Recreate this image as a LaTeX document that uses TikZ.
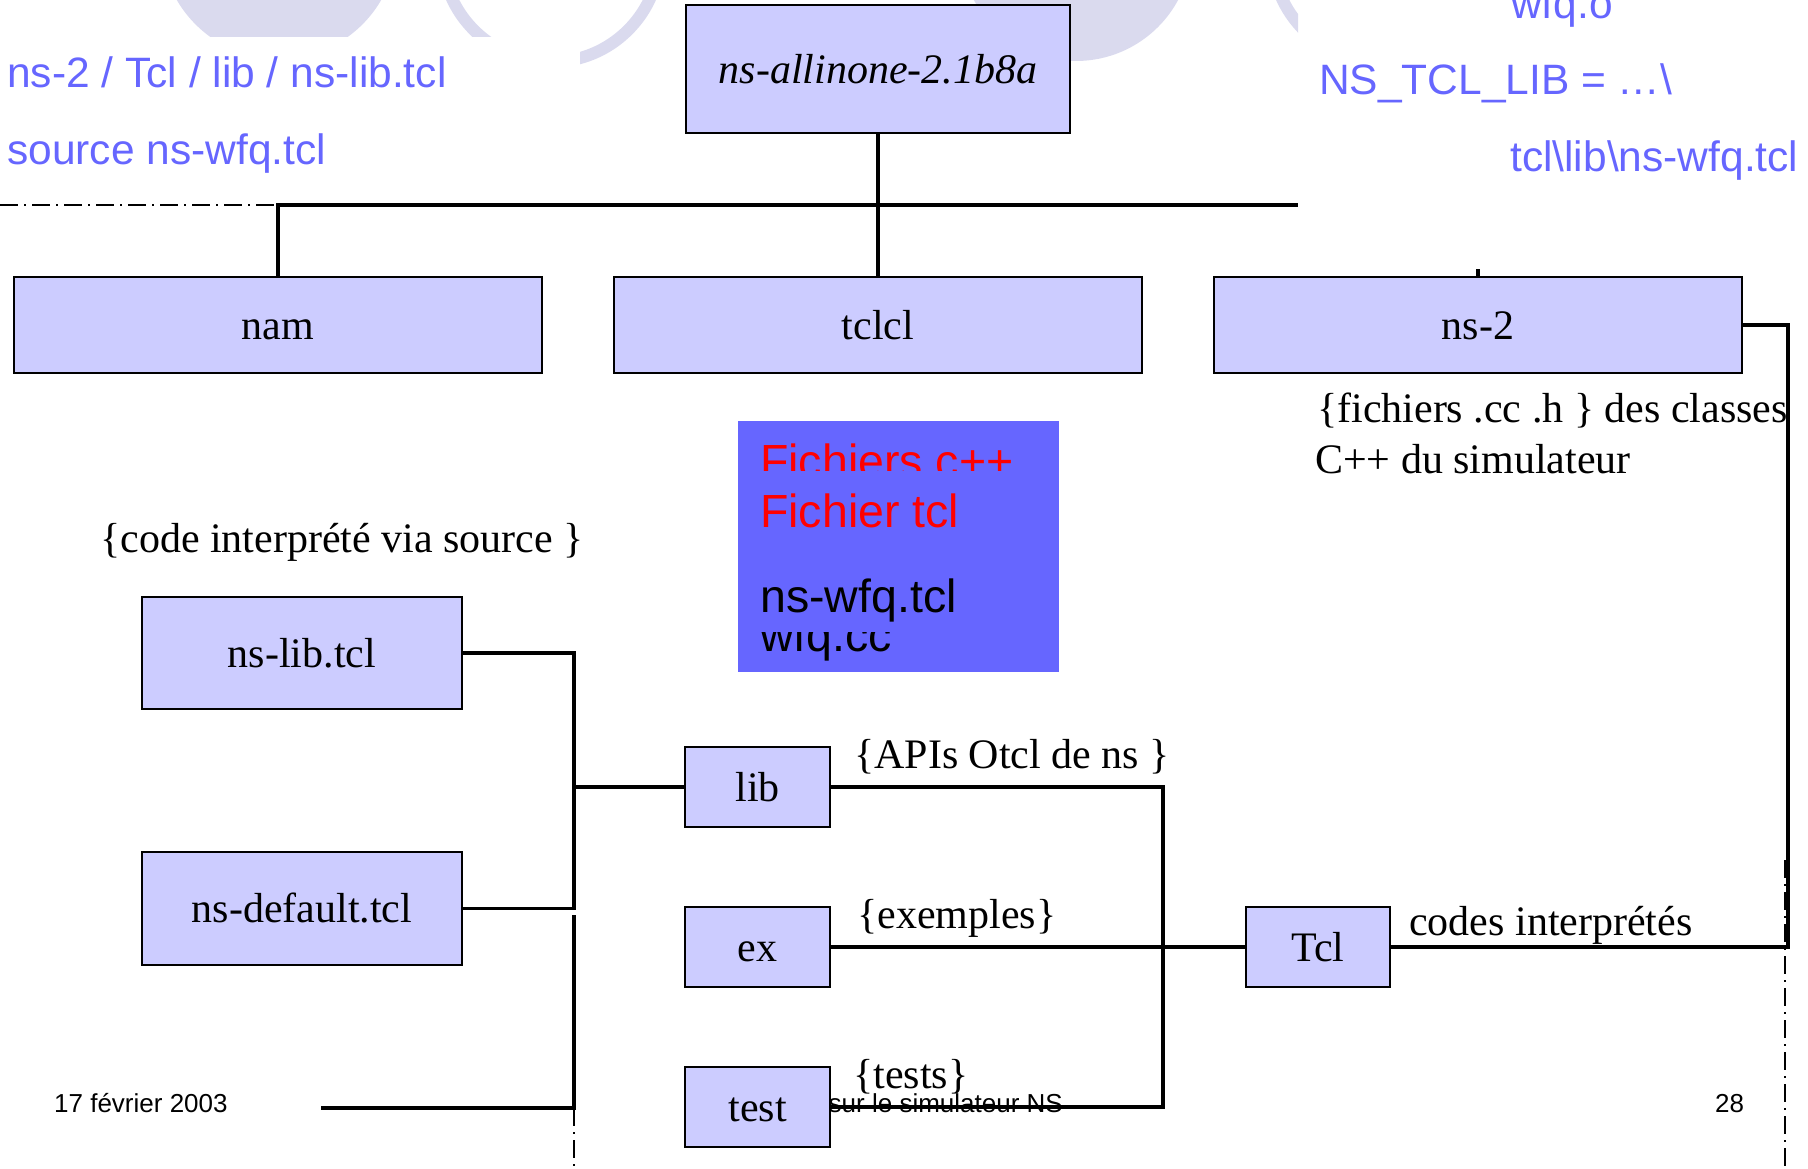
\documentclass[tikz,border=0pt]{standalone}
\usepackage{fontspec}
\setmainfont{Liberation Serif}
\newfontfamily\arialfont{Liberation Sans}
\definecolor{boxfill}{RGB}{204,204,255}
\definecolor{slideblue}{RGB}{102,102,255}
\definecolor{decor}{RGB}{218,218,238}
\definecolor{pureRed}{RGB}{255,0,0}
\tikzset{
  dirbox/.style={draw=black, line width=2.5pt, fill=boxfill, inner sep=0pt,
    font=\fontsize{42}{50}\selectfont, text height=37.4pt, text depth=9.1pt},
  link/.style={line width=3.5pt},
  note/.style={anchor=base west, inner sep=0pt, font=\fontsize{42}{50}\selectfont},
  bluenote/.style={anchor=base west, inner sep=0pt, text=slideblue,
    font=\arialfont\fontsize{42.5}{50}\selectfont},
  foot/.style={inner sep=0pt, font=\arialfont\fontsize{26}{30}\selectfont},
  boxtext/.style={anchor=base west, inner sep=0pt,
    font=\arialfont\fontsize{46.5}{54}\selectfont},
  guide/.style={line width=1.5pt, dash pattern=on 18pt off 6pt on 2pt off 6pt},
}
\begin{document}
\begin{tikzpicture}[x=1pt,y=-1pt]
\useasboundingbox (0,0) rectangle (1808,1169);
\clip (0,0) rectangle (1808,1169);

% background ornaments of the slide header
\begin{scope}
  \clip (0,0) -- (1298,0) -- (1298,100) -- (580,100) -- (580,37) -- (0,37) -- cycle;
  \fill[decor] (279,-59) circle (118);
  \draw[decor, line width=12pt] (551,-47) circle (109);
  \fill[decor] (1076,-55) circle (116);
  \draw[decor, line width=12pt] (1381,-47) circle (109);
\end{scope}

% blue path notes
\node[bluenote] (p1) at (7,88) {ns-2 / Tcl / lib / ns-lib.tcl};
\node[bluenote] (p2) at (7,165) {source ns-wfq.tcl};
\node[bluenote] (p3) at (1511,19) {wfq.o};
\node[bluenote] (p4) at (1319,95) {NS\_TCL\_LIB = …\textbackslash};
\node[bluenote] (p5) at (1510,172) {tcl\textbackslash lib\textbackslash ns-wfq.tcl};

% footer
\node[foot, anchor=base west] (date) at (54,1112) {17 février 2003};
\node[foot, anchor=base east] (title) at (1063,1112) {sur le simulateur NS};
\node[foot, anchor=base west] (page) at (1715,1112) {28};

% file type legend
\node[fill=slideblue, inner sep=0pt, minimum width=321pt, minimum height=251pt] (legend) at (898.5,546.5) {};
\begin{scope}
  \clip (738,421) rectangle (1059,470);
  \node[boxtext, text=pureRed] (lc) at (760,477) {Fichiers c++};
\end{scope}
\node[boxtext, text=pureRed] (lt) at (760,527) {Fichier tcl};
\node[boxtext] (lw) at (760,612) {ns-wfq.tcl};
\begin{scope}
  \clip (738,632) rectangle (1059,672);
  \node[boxtext] (lcc) at (760,651) {wfq.cc};
\end{scope}

% directory tree
\node[dirbox, minimum width=384pt, minimum height=128pt] (top) at (878,69) {\textit{ns-allinone-2.1b8a}};
\node[dirbox, minimum width=528pt, minimum height=96pt] (nam) at (278,325) {nam};
\node[dirbox, minimum width=528pt, minimum height=96pt] (tclcl) at (878,325) {tclcl};
\node[dirbox, minimum width=528pt, minimum height=96pt] (ns2) at (1478,325) {ns-2};
\node[dirbox, minimum width=320pt, minimum height=112pt] (nslib) at (302,653) {ns-lib.tcl};
\node[dirbox, minimum width=320pt, minimum height=113pt] (nsdef) at (302,908.5) {ns-default.tcl};
\node[dirbox, minimum width=145pt, minimum height=80pt] (lib) at (757.5,787) {lib};
\node[dirbox, minimum width=145pt, minimum height=80pt] (ex) at (757.5,947) {ex};
\node[dirbox, minimum width=145pt, minimum height=80pt] (test) at (757.5,1107) {test};
\node[dirbox, minimum width=144pt, minimum height=80pt] (tcl) at (1318,947) {Tcl};

% annotations
\node[note] (a1) at (1317,422) {\{fichiers .cc .h \} des classes};
\node[note] (a2) at (1315,473) {C++ du simulateur};
\node[note] (a3) at (100,552) {\{code interprété via source \}};
\node[note] (a4) at (854,768) {\{APIs Otcl de ns \}};
\node[note] (a5) at (857,928) {\{exemples\}};
\node[note] (a6) at (853,1088) {\{tests\}};
\node[note] (a7) at (1409,935) {codes interprétés};

% junction points
\coordinate (hubL) at (0,205);
\coordinate (hubR) at (1298,205);
\coordinate (tick) at (1478,269);
\coordinate (rc) at (1788,947);
\coordinate (jl) at (574,787);
\coordinate (jr) at (1163,947);
\coordinate (fa) at (574,915);
\coordinate (fb) at (574,1108);
\coordinate (fc) at (321,1108);
\coordinate (fd) at (574,1169);
\coordinate (ga) at (1785,860);
\coordinate (gb) at (1785,1169);

% connectors
\draw[link] (top.south) -- (tclcl.north);
\draw[link] (nam.north) |- (hubR);
\draw[guide] (hubL) -- (nam.north |- hubL);
\draw[link] (ns2.north) -- (tick);
\draw[link] (ns2.east) -| (rc) -- (tcl.east);
\draw[link] (nslib.east) -| (jl) |- (nsdef.east);
\draw[link] (jl) -- (lib.west);
\draw[link] (lib.east) -| (jr) |- (test.east);
\draw[link] (ex.east) -- (tcl.west);
\draw[link] (fa) -- (fb) -- (fc);
\draw[guide] (fb) -- (fd);
\draw[guide] (ga) -- (gb);
\end{tikzpicture}
\end{document}
